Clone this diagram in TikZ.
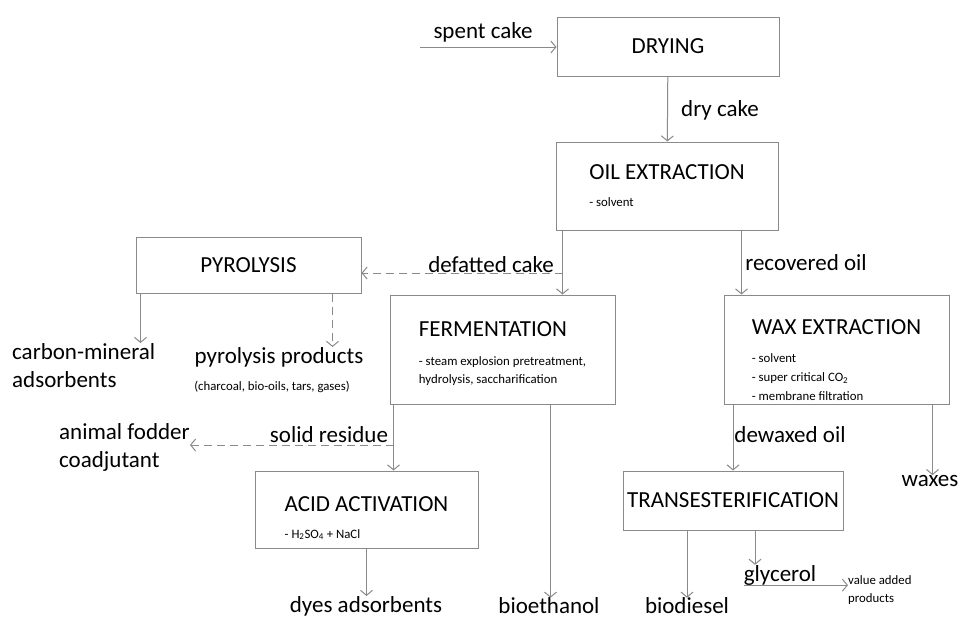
\documentclass[tikz,border=0pt]{standalone}
\usepackage{fontspec}
\setmainfont{Carlito}
\usepackage{tikz}
\usetikzlibrary{arrows.meta,positioning}
\definecolor{LineGray}{HTML}{8A8A8A}
\newcommand{\titlefont}{\fontsize{23}{26}\selectfont}
\newcommand{\lblfont}{\fontsize{23}{28.5}\selectfont}
\newcommand{\notefont}{\fontsize{12.8}{18}\selectfont}
\newcommand{\topgap}[1]{\rule{0pt}{#1}}

\begin{document}
\begin{tikzpicture}[
  x=1pt,y=-1pt,
  box/.style={draw=LineGray,line width=1pt,minimum width=222pt,align=left,inner sep=0pt,font=\titlefont},
  lbl/.style={inner sep=0pt,font=\lblfont,align=left},
  note/.style={inner sep=0pt,font=\notefont,align=left},
  arr/.style={-{Straight Barb[length=5pt,width=12pt]},line width=1pt,color=LineGray},
  darr/.style={arr,dash pattern=on 8pt off 5pt}
]
\useasboundingbox[fill=white] (0,0) rectangle (960,619);
% process boxes
\node[box,minimum height=59pt] (dry) at (668,46.5) {DRYING};
\node[box,minimum height=88pt] (oil) at (667,186) {OIL EXTRACTION\\[1pt]\notefont - solvent};
\node[box,minimum width=225pt,minimum height=56pt] (pyro) at (248.5,265) {PYROLYSIS};
\node[box,minimum width=225pt,minimum height=109pt] (ferm) at (502.5,349.5) {\topgap{23pt}FERMENTATION\\[3pt]\notefont - steam explosion pretreatment,\\[-8pt]\notefont hydrolysis, saccharification};
\node[box,minimum width=225pt,minimum height=109pt] (wax) at (836.5,349.5) {\topgap{36pt}WAX EXTRACTION\\[2pt]\notefont - solvent\\[-7pt]\notefont - super critical CO\textsubscript{2}\\[-7pt]\notefont - membrane filtration};
\node[box,minimum width=223pt,minimum height=77pt] (acid) at (366.5,509.5) {\topgap{32pt}ACID ACTIVATION\\[1pt]\notefont - H\textsubscript{2}SO\textsubscript{4} + NaCl};
\node[box,minimum width=220pt,minimum height=59pt] (trans) at (733,500.5) {TRANSESTERIFICATION};
% products and stream labels
\node[lbl] (spent) at (483,32) {spent cake};
\node[lbl] (drycake) at (720,110) {dry cake};
\node[lbl] (defat) at (491,265) {defatted cake};
\node[lbl] (recov) at (806,263) {recovered oil};
\node[lbl,anchor=north west] (carbon) at (12,343) {carbon-mineral\\adsorbents};
\node[lbl] (pprod) at (279,357) {pyrolysis products};
\node[note] (pnote) at (272,387) {(charcoal, bio-oils, tars, gases)};
\node[lbl] (solid) at (329,435) {solid residue};
\node[lbl,anchor=north west] (fodder) at (59,423) {animal fodder\\coadjutant};
\node[lbl] (ethanol) at (549,606) {bioethanol};
\node[lbl] (dyes) at (366,606) {dyes adsorbents};
\node[lbl] (dewax) at (790,435) {dewaxed oil};
\node[lbl] (waxes) at (930,481) {waxes};
\node[lbl] (diesel) at (687,606) {biodiesel};
\node[lbl] (glyc) at (780,575) {glycerol};
\node[note,anchor=west] (value) at (848,590) {value added\\products};
\coordinate (feed) at (420,47);
\coordinate (split) at (563,273);
\coordinate (resid) at (394,445);
% streams
\draw[arr] (feed) -- (feed -| dry.west);
\draw[arr] (dry) -- (oil);
\draw[arr] ([xshift=7pt]oil.south west) -- ([xshift=7pt]oil.south west |- ferm.north);
\draw[darr] (split) -- (split -| pyro.east);
\draw[arr] ([xshift=-37pt]oil.south east) -- ([xshift=-37pt]oil.south east |- wax.north);
\draw[arr] ([xshift=5pt]pyro.south west) -- ([xshift=5pt]pyro.south west |- carbon.north);
\draw[darr] ([xshift=-29pt]pyro.south east) -- ([xshift=-29pt]pyro.south east |- pprod.north);
\draw[arr] ([xshift=4pt]ferm.south west) -- ([xshift=4pt]ferm.south west |- acid.north);
\draw[darr] (resid) -- (resid -| fodder.east);
\draw[arr] ([xshift=-65pt]ferm.south east) -- ([xshift=-65pt]ferm.south east |- ethanol.north);
\draw[arr] (acid.south) -- (acid.south |- dyes.north);
\draw[arr] (trans.north |- wax.south) -- (trans.north);
\draw[arr] ([xshift=-17pt]wax.south east) -- ([xshift=-17pt]wax.south east |- waxes.north);
\draw[arr] (trans.south -| diesel) -- (diesel.north);
\draw[arr] ([xshift=22pt]trans.south) -- ([xshift=22pt]trans.south |- glyc.north);
\draw[arr] (glyc.south west) -- (glyc.south west -| value.west);
\end{tikzpicture}
\end{document}
